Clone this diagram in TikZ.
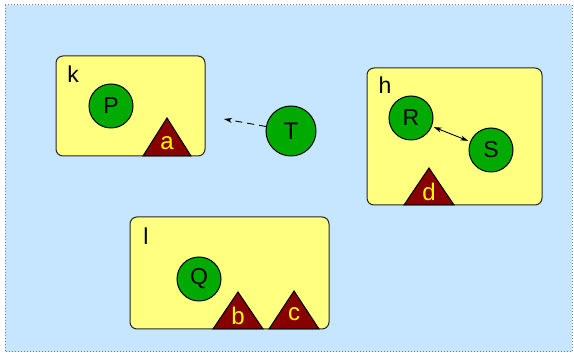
\documentclass[tikz,border=0pt]{standalone}
\usepackage{fontspec}
\setmainfont{Liberation Sans}
\usetikzlibrary{arrows.meta}
\definecolor{bgblue}{RGB}{198,230,255}
\definecolor{boxyellow}{RGB}{255,255,128}
\definecolor{ballgreen}{RGB}{0,170,0}
\definecolor{tridark}{RGB}{136,0,0}
\definecolor{trilabel}{RGB}{255,255,0}
\begin{document}
\begin{tikzpicture}[x=1pt,y=-1pt,
  groupbox/.style={draw=black!85,fill=boxyellow,rounded corners=7pt,line width=1pt},
  ball/.style={circle,draw=black,fill=ballgreen,line width=1pt,minimum size=44pt,inner sep=0pt,font=\fontsize{23}{27}\selectfont},
  bigball/.style={ball,minimum size=50pt,font=\fontsize{24}{28}\selectfont},
  tri/.style={draw=black,fill=tridark,line width=1pt},
  trilab/.style={text=trilabel,font=\fontsize{24}{28}\selectfont,inner sep=0pt},
  grouplab/.style={font=\fontsize{23}{27}\selectfont,inner sep=0pt},
  link/.style={line width=0.9pt}]
\useasboundingbox (0,0) rectangle (574,355);
\draw[fill=bgblue,draw=gray,dotted,line width=1pt] (5,5) rectangle (572,352);
% group k
\draw[groupbox] (56,56) rectangle (205,156);
\node[grouplab] (k) at (73,74) {k};
\node[ball] (P) at (111,106) {P};
\draw[tri] (143,156) -- (167,118) -- (191,156) -- cycle;
\node[trilab] (a) at (167,143) {a};
% group h
\draw[groupbox] (367,68) rectangle (542,205);
\node[grouplab] (h) at (385,85) {h};
\node[ball] (R) at (411,118) {R};
\node[ball] (S) at (491,150) {S};
\draw[tri] (404,205) -- (429,168) -- (454,205) -- cycle;
\node[trilab] (d) at (429,192) {d};
% group l
\draw[groupbox] (130,217) rectangle (329,329);
\node[grouplab] (l) at (146,236) {l};
\node[ball] (Q) at (199,279) {Q};
\draw[tri] (213,329) -- (238,292) -- (263,329) -- cycle;
\node[trilab] (b) at (238,316) {b};
\draw[tri] (269,329) -- (294,291) -- (319,329) -- cycle;
\node[trilab] (c) at (294,314) {c};
% free node T
\node[bigball] (T) at (291,131) {T};
\coordinate (tipT) at (224,119);
\draw[link,dash pattern=on 7pt off 5pt,-{Stealth[length=8pt,width=5pt]}] (T) -- (tipT);
\draw[link,{Stealth[length=8pt,width=5pt]}-{Stealth[length=8pt,width=5pt]},shorten <=2pt,shorten >=2pt] (R) -- (S);
\end{tikzpicture}
\end{document}
